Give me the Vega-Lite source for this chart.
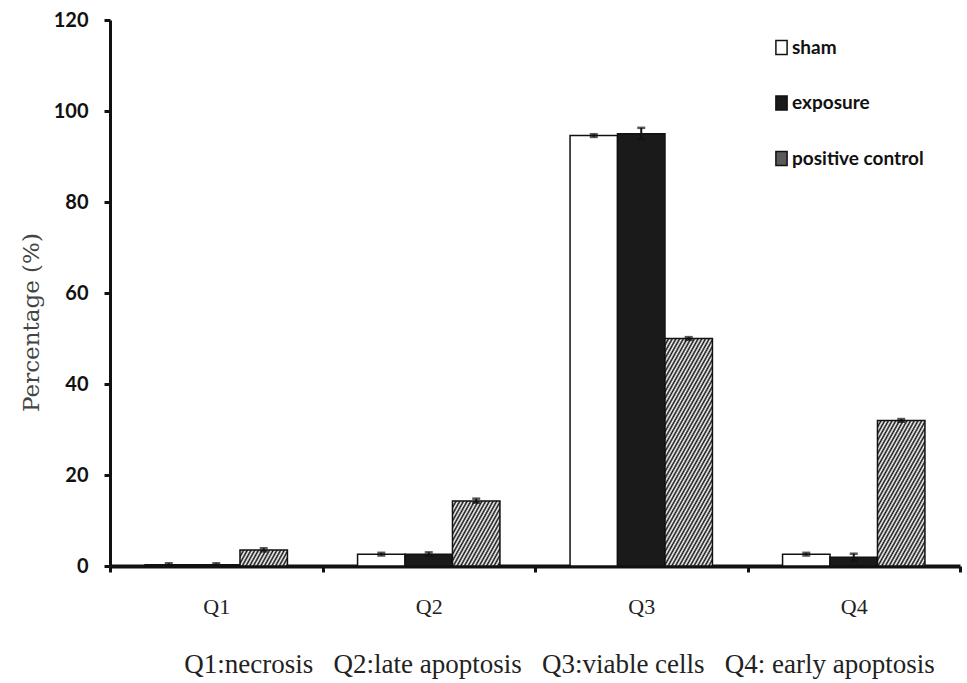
{
  "$schema": "https://vega.github.io/schema/vega-lite/v6.json",
  "width": 850,
  "height": 546,
  "autosize": {"type": "none"},
  "padding": {"left": 110, "top": 20, "right": 7, "bottom": 117},
  "background": "white",
  "config": {"view": {"stroke": null}},
  "data": {"values": [
    {"cat": "Q1", "group": "sham", "value": 0.3, "lo": 0.0, "hi": 0.6},
    {"cat": "Q1", "group": "exposure", "value": 0.3, "lo": 0.0, "hi": 0.6},
    {"cat": "Q1", "group": "positive control", "value": 3.5, "lo": 3.2, "hi": 3.9},
    {"cat": "Q2", "group": "sham", "value": 2.6, "lo": 2.3, "hi": 2.9},
    {"cat": "Q2", "group": "exposure", "value": 2.6, "lo": 2.3, "hi": 3.0},
    {"cat": "Q2", "group": "positive control", "value": 14.3, "lo": 13.9, "hi": 14.8},
    {"cat": "Q3", "group": "sham", "value": 94.6, "lo": 94.3, "hi": 94.9},
    {"cat": "Q3", "group": "exposure", "value": 95.0, "lo": 93.8, "hi": 96.3},
    {"cat": "Q3", "group": "positive control", "value": 50.0, "lo": 49.7, "hi": 50.3},
    {"cat": "Q4", "group": "sham", "value": 2.6, "lo": 2.3, "hi": 2.9},
    {"cat": "Q4", "group": "exposure", "value": 1.9, "lo": 1.2, "hi": 2.7},
    {"cat": "Q4", "group": "positive control", "value": 32.0, "lo": 31.7, "hi": 32.3}
  ]},
  "encoding": {
    "x": {
      "field": "cat", "type": "nominal", "sort": ["Q1", "Q2", "Q3", "Q4"],
      "scale": {"paddingInner": 0, "paddingOuter": 0},
      "axis": {
        "title": "Q1:necrosis\u00a0 \u00a0Q2:late apoptosis\u00a0 \u00a0Q3:viable cells\u00a0 \u00a0Q4: early apoptosis",
        "labelAngle": 0, "ticks": true, "tickBand": "extent", "tickSize": 6, "tickWidth": 3, "tickColor": "#111",
        "grid": false,
        "domainColor": "#111", "domainWidth": 4,
        "labelFont": "Liberation Serif", "labelFontSize": 22, "labelColor": "#222", "labelPadding": 24,
        "titleFont": "Liberation Serif", "titleFontSize": 27, "titleFontWeight": "normal", "titleColor": "#222",
        "titleX": 449, "titleY": 98, "titleBaseline": "middle", "titleAlign": "center"
      }
    },
    "xOffset": {
      "field": "group", "type": "nominal", "sort": ["sham", "exposure", "positive control"],
      "scale": {"domain": ["sham", "exposure", "positive control"], "paddingInner": 0, "paddingOuter": 0.7387}
    }
  },
  "layer": [
    {
      "mark": {"type": "bar", "stroke": "#111", "strokeWidth": 1.5},
      "encoding": {
        "y": {
          "field": "value", "type": "quantitative", "title": "Percentage (%)",
          "scale": {"domain": [0, 120], "nice": false},
          "axis": {
            "values": [0, 20, 40, 60, 80, 100, 120],
            "ticks": true, "tickSize": 6, "tickWidth": 3, "tickColor": "#111",
            "grid": false,
            "domainColor": "#111", "domainWidth": 3,
            "labelFont": "Lato", "labelFontWeight": "bold", "labelFontSize": 20, "labelColor": "#111", "labelPadding": 16,
            "titleFont": "DejaVu Serif", "titleFontSize": 23, "titleFontWeight": "normal", "titleColor": "#444",
            "titleX": -79, "titleY": 302, "titleAlign": "center", "titleBaseline": "middle", "titleAngle": -90
          }
        },
        "fill": {
          "field": "group", "type": "nominal",
          "scale": {
            "domain": ["sham", "exposure", "positive control"],
            "range": ["#ffffff", "#1a1a1a", "#5a5a5a"]
          },
          "legend": {
            "title": null, "orient": "none", "legendX": 662, "legendY": 18, "padding": 0,
            "rowPadding": 34.5, "labelOffset": 1,
            "labelFont": "Lato", "labelFontWeight": "bold", "labelFontSize": 19, "labelColor": "#111",
            "symbolType": "M-0.8,-1H0.8V1H-0.8Z", "symbolSize": 196,
            "encode": {"symbols": {
              "stroke": {"value": "#111"},
              "strokeWidth": {"value": 1.2}
            }}
          },
          "condition": [
            {"test": "datum.group === 'positive control' && datum.cat === 'Q1'", "value": {"gradient": "linear", "x1": 0, "y1": 0, "x2": 3.6167, "y2": 0.6731, "stops": [
              {"offset": 0, "color": "#111"}, {"offset": 0.0104, "color": "#fff"}, {"offset": 0.0208, "color": "#111"}, {"offset": 0.0313, "color": "#fff"},
              {"offset": 0.0417, "color": "#111"}, {"offset": 0.0521, "color": "#fff"}, {"offset": 0.0625, "color": "#111"}, {"offset": 0.0729, "color": "#fff"},
              {"offset": 0.0833, "color": "#111"}, {"offset": 0.0938, "color": "#fff"}, {"offset": 0.1042, "color": "#111"}, {"offset": 0.1146, "color": "#fff"},
              {"offset": 0.125, "color": "#111"}, {"offset": 0.1354, "color": "#fff"}, {"offset": 0.1458, "color": "#111"}, {"offset": 0.1563, "color": "#fff"},
              {"offset": 0.1667, "color": "#111"}, {"offset": 0.1771, "color": "#fff"}, {"offset": 0.1875, "color": "#111"}, {"offset": 0.1979, "color": "#fff"},
              {"offset": 0.2083, "color": "#111"}, {"offset": 0.2188, "color": "#fff"}, {"offset": 0.2292, "color": "#111"}, {"offset": 0.2396, "color": "#fff"},
              {"offset": 0.25, "color": "#111"}, {"offset": 0.2604, "color": "#fff"}, {"offset": 0.2708, "color": "#111"}, {"offset": 0.2813, "color": "#fff"},
              {"offset": 0.2917, "color": "#111"}, {"offset": 0.3021, "color": "#fff"}, {"offset": 0.3125, "color": "#111"}, {"offset": 0.3229, "color": "#fff"},
              {"offset": 0.3333, "color": "#111"}, {"offset": 0.3438, "color": "#fff"}, {"offset": 0.3542, "color": "#111"}]}},
            {"test": "datum.group === 'positive control' && datum.cat === 'Q2'", "value": {"gradient": "linear", "x1": 0, "y1": 0, "x2": 2.3673, "y2": 1.8039, "stops": [
              {"offset": 0, "color": "#111"}, {"offset": 0.0104, "color": "#fff"}, {"offset": 0.0208, "color": "#111"}, {"offset": 0.0313, "color": "#fff"},
              {"offset": 0.0417, "color": "#111"}, {"offset": 0.0521, "color": "#fff"}, {"offset": 0.0625, "color": "#111"}, {"offset": 0.0729, "color": "#fff"},
              {"offset": 0.0833, "color": "#111"}, {"offset": 0.0938, "color": "#fff"}, {"offset": 0.1042, "color": "#111"}, {"offset": 0.1146, "color": "#fff"},
              {"offset": 0.125, "color": "#111"}, {"offset": 0.1354, "color": "#fff"}, {"offset": 0.1458, "color": "#111"}, {"offset": 0.1563, "color": "#fff"},
              {"offset": 0.1667, "color": "#111"}, {"offset": 0.1771, "color": "#fff"}, {"offset": 0.1875, "color": "#111"}, {"offset": 0.1979, "color": "#fff"},
              {"offset": 0.2083, "color": "#111"}, {"offset": 0.2188, "color": "#fff"}, {"offset": 0.2292, "color": "#111"}, {"offset": 0.2396, "color": "#fff"},
              {"offset": 0.25, "color": "#111"}, {"offset": 0.2604, "color": "#fff"}, {"offset": 0.2708, "color": "#111"}, {"offset": 0.2813, "color": "#fff"},
              {"offset": 0.2917, "color": "#111"}, {"offset": 0.3021, "color": "#fff"}, {"offset": 0.3125, "color": "#111"}, {"offset": 0.3229, "color": "#fff"},
              {"offset": 0.3333, "color": "#111"}, {"offset": 0.3438, "color": "#fff"}, {"offset": 0.3542, "color": "#111"}, {"offset": 0.3646, "color": "#fff"},
              {"offset": 0.375, "color": "#111"}, {"offset": 0.3854, "color": "#fff"}, {"offset": 0.3958, "color": "#111"}, {"offset": 0.4063, "color": "#fff"},
              {"offset": 0.4167, "color": "#111"}, {"offset": 0.4271, "color": "#fff"}, {"offset": 0.4375, "color": "#111"}, {"offset": 0.4479, "color": "#fff"},
              {"offset": 0.4583, "color": "#111"}, {"offset": 0.4688, "color": "#fff"}, {"offset": 0.4792, "color": "#111"}, {"offset": 0.4896, "color": "#fff"},
              {"offset": 0.5, "color": "#111"}, {"offset": 0.5104, "color": "#fff"}, {"offset": 0.5208, "color": "#111"}]}},
            {"test": "datum.group === 'positive control' && datum.cat === 'Q3'", "value": {"gradient": "linear", "x1": 0, "y1": 0, "x2": 0.4624, "y2": 1.2314, "stops": [
              {"offset": 0, "color": "#111"}, {"offset": 0.0104, "color": "#fff"}, {"offset": 0.0208, "color": "#111"}, {"offset": 0.0313, "color": "#fff"},
              {"offset": 0.0417, "color": "#111"}, {"offset": 0.0521, "color": "#fff"}, {"offset": 0.0625, "color": "#111"}, {"offset": 0.0729, "color": "#fff"},
              {"offset": 0.0833, "color": "#111"}, {"offset": 0.0938, "color": "#fff"}, {"offset": 0.1042, "color": "#111"}, {"offset": 0.1146, "color": "#fff"},
              {"offset": 0.125, "color": "#111"}, {"offset": 0.1354, "color": "#fff"}, {"offset": 0.1458, "color": "#111"}, {"offset": 0.1563, "color": "#fff"},
              {"offset": 0.1667, "color": "#111"}, {"offset": 0.1771, "color": "#fff"}, {"offset": 0.1875, "color": "#111"}, {"offset": 0.1979, "color": "#fff"},
              {"offset": 0.2083, "color": "#111"}, {"offset": 0.2188, "color": "#fff"}, {"offset": 0.2292, "color": "#111"}, {"offset": 0.2396, "color": "#fff"},
              {"offset": 0.25, "color": "#111"}, {"offset": 0.2604, "color": "#fff"}, {"offset": 0.2708, "color": "#111"}, {"offset": 0.2813, "color": "#fff"},
              {"offset": 0.2917, "color": "#111"}, {"offset": 0.3021, "color": "#fff"}, {"offset": 0.3125, "color": "#111"}, {"offset": 0.3229, "color": "#fff"},
              {"offset": 0.3333, "color": "#111"}, {"offset": 0.3438, "color": "#fff"}, {"offset": 0.3542, "color": "#111"}, {"offset": 0.3646, "color": "#fff"},
              {"offset": 0.375, "color": "#111"}, {"offset": 0.3854, "color": "#fff"}, {"offset": 0.3958, "color": "#111"}, {"offset": 0.4063, "color": "#fff"},
              {"offset": 0.4167, "color": "#111"}, {"offset": 0.4271, "color": "#fff"}, {"offset": 0.4375, "color": "#111"}, {"offset": 0.4479, "color": "#fff"},
              {"offset": 0.4583, "color": "#111"}, {"offset": 0.4688, "color": "#fff"}, {"offset": 0.4792, "color": "#111"}, {"offset": 0.4896, "color": "#fff"},
              {"offset": 0.5, "color": "#111"}, {"offset": 0.5104, "color": "#fff"}, {"offset": 0.5208, "color": "#111"}, {"offset": 0.5313, "color": "#fff"},
              {"offset": 0.5417, "color": "#111"}, {"offset": 0.5521, "color": "#fff"}, {"offset": 0.5625, "color": "#111"}, {"offset": 0.5729, "color": "#fff"},
              {"offset": 0.5833, "color": "#111"}, {"offset": 0.5938, "color": "#fff"}, {"offset": 0.6042, "color": "#111"}, {"offset": 0.6146, "color": "#fff"},
              {"offset": 0.625, "color": "#111"}, {"offset": 0.6354, "color": "#fff"}, {"offset": 0.6458, "color": "#111"}, {"offset": 0.6563, "color": "#fff"},
              {"offset": 0.6667, "color": "#111"}, {"offset": 0.6771, "color": "#fff"}, {"offset": 0.6875, "color": "#111"}, {"offset": 0.6979, "color": "#fff"},
              {"offset": 0.7083, "color": "#111"}, {"offset": 0.7188, "color": "#fff"}, {"offset": 0.7292, "color": "#111"}, {"offset": 0.7396, "color": "#fff"},
              {"offset": 0.75, "color": "#111"}, {"offset": 0.7604, "color": "#fff"}, {"offset": 0.7708, "color": "#111"}, {"offset": 0.7813, "color": "#fff"},
              {"offset": 0.7917, "color": "#111"}, {"offset": 0.8021, "color": "#fff"}, {"offset": 0.8125, "color": "#111"}, {"offset": 0.8229, "color": "#fff"},
              {"offset": 0.8333, "color": "#111"}, {"offset": 0.8438, "color": "#fff"}, {"offset": 0.8542, "color": "#111"}, {"offset": 0.8646, "color": "#fff"},
              {"offset": 0.875, "color": "#111"}, {"offset": 0.8854, "color": "#fff"}, {"offset": 0.8958, "color": "#111"}, {"offset": 0.9063, "color": "#fff"},
              {"offset": 0.9167, "color": "#111"}, {"offset": 0.9271, "color": "#fff"}, {"offset": 0.9375, "color": "#111"}, {"offset": 0.9479, "color": "#fff"},
              {"offset": 0.9583, "color": "#111"}, {"offset": 0.9688, "color": "#fff"}, {"offset": 0.9792, "color": "#111"}, {"offset": 0.9896, "color": "#fff"},
              {"offset": 1, "color": "#111"}]}},
            {"test": "datum.group === 'positive control' && datum.cat === 'Q4'", "value": {"gradient": "linear", "x1": 0, "y1": 0, "x2": 0.9583, "y2": 1.6333, "stops": [
              {"offset": 0, "color": "#111"}, {"offset": 0.0104, "color": "#fff"}, {"offset": 0.0208, "color": "#111"}, {"offset": 0.0313, "color": "#fff"},
              {"offset": 0.0417, "color": "#111"}, {"offset": 0.0521, "color": "#fff"}, {"offset": 0.0625, "color": "#111"}, {"offset": 0.0729, "color": "#fff"},
              {"offset": 0.0833, "color": "#111"}, {"offset": 0.0938, "color": "#fff"}, {"offset": 0.1042, "color": "#111"}, {"offset": 0.1146, "color": "#fff"},
              {"offset": 0.125, "color": "#111"}, {"offset": 0.1354, "color": "#fff"}, {"offset": 0.1458, "color": "#111"}, {"offset": 0.1563, "color": "#fff"},
              {"offset": 0.1667, "color": "#111"}, {"offset": 0.1771, "color": "#fff"}, {"offset": 0.1875, "color": "#111"}, {"offset": 0.1979, "color": "#fff"},
              {"offset": 0.2083, "color": "#111"}, {"offset": 0.2188, "color": "#fff"}, {"offset": 0.2292, "color": "#111"}, {"offset": 0.2396, "color": "#fff"},
              {"offset": 0.25, "color": "#111"}, {"offset": 0.2604, "color": "#fff"}, {"offset": 0.2708, "color": "#111"}, {"offset": 0.2813, "color": "#fff"},
              {"offset": 0.2917, "color": "#111"}, {"offset": 0.3021, "color": "#fff"}, {"offset": 0.3125, "color": "#111"}, {"offset": 0.3229, "color": "#fff"},
              {"offset": 0.3333, "color": "#111"}, {"offset": 0.3438, "color": "#fff"}, {"offset": 0.3542, "color": "#111"}, {"offset": 0.3646, "color": "#fff"},
              {"offset": 0.375, "color": "#111"}, {"offset": 0.3854, "color": "#fff"}, {"offset": 0.3958, "color": "#111"}, {"offset": 0.4063, "color": "#fff"},
              {"offset": 0.4167, "color": "#111"}, {"offset": 0.4271, "color": "#fff"}, {"offset": 0.4375, "color": "#111"}, {"offset": 0.4479, "color": "#fff"},
              {"offset": 0.4583, "color": "#111"}, {"offset": 0.4688, "color": "#fff"}, {"offset": 0.4792, "color": "#111"}, {"offset": 0.4896, "color": "#fff"},
              {"offset": 0.5, "color": "#111"}, {"offset": 0.5104, "color": "#fff"}, {"offset": 0.5208, "color": "#111"}, {"offset": 0.5313, "color": "#fff"},
              {"offset": 0.5417, "color": "#111"}, {"offset": 0.5521, "color": "#fff"}, {"offset": 0.5625, "color": "#111"}, {"offset": 0.5729, "color": "#fff"},
              {"offset": 0.5833, "color": "#111"}, {"offset": 0.5938, "color": "#fff"}, {"offset": 0.6042, "color": "#111"}, {"offset": 0.6146, "color": "#fff"},
              {"offset": 0.625, "color": "#111"}, {"offset": 0.6354, "color": "#fff"}, {"offset": 0.6458, "color": "#111"}, {"offset": 0.6563, "color": "#fff"},
              {"offset": 0.6667, "color": "#111"}, {"offset": 0.6771, "color": "#fff"}, {"offset": 0.6875, "color": "#111"}, {"offset": 0.6979, "color": "#fff"},
              {"offset": 0.7083, "color": "#111"}, {"offset": 0.7188, "color": "#fff"}, {"offset": 0.7292, "color": "#111"}, {"offset": 0.7396, "color": "#fff"},
              {"offset": 0.75, "color": "#111"}, {"offset": 0.7604, "color": "#fff"}, {"offset": 0.7708, "color": "#111"}]}}
          ]
        }
      }
    },
    {
      "mark": {"type": "rule", "color": "#111", "strokeWidth": 2},
      "encoding": {
        "y": {"field": "lo", "type": "quantitative", "title": "Percentage (%)"},
        "y2": {"field": "hi"}
      }
    },
    {
      "mark": {"type": "tick", "color": "#111", "thickness": 2.5, "size": 8},
      "encoding": {
        "y": {"field": "hi", "type": "quantitative", "title": "Percentage (%)"}
      }
    },
    {
      "mark": {"type": "tick", "color": "#111", "thickness": 2.5, "size": 8},
      "encoding": {
        "y": {"field": "lo", "type": "quantitative", "title": "Percentage (%)"}
      }
    }
  ]
}
